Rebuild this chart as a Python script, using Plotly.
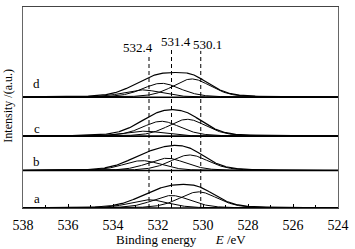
import numpy as np
import plotly.graph_objects as go

# ---- data ----
panels = ["a", "b", "c", "d"]
baselines = [0.0, 37.8, 72.5, 111.8]          # vertical offset of each spectrum
# fitted components per panel: centre (eV), height, FWHM (eV)
comp_centres = {
    "a": [532.4, 531.4, 530.2],
    "b": [532.7, 531.6, 530.6],
    "c": [532.6, 531.85, 530.7],
    "d": [532.7, 531.85, 530.5],
}
comp_heights = {
    "a": [8.3, 12.6, 16.3],
    "b": [10.0, 12.4, 15.7],
    "c": [5.0, 15.0, 17.0],
    "d": [7.4, 14.0, 18.4],
}
comp_fwhm = {
    "a": [2.0, 2.0, 2.0],
    "b": [2.0, 2.0, 2.0],
    "c": [2.0, 2.0, 2.0],
    "d": [2.0, 2.0, 2.0],
}
lorentz_frac = 0.3
ref_positions = [532.4, 531.4, 530.1]
ref_labels = ["532.4", "531.4", "530.1"]
x_ticks = [538, 536, 534, 532, 530, 528, 526, 524]

energy = np.linspace(538, 524, 701)


def pvoigt(x, c, h, w, m):
    d = (x - c) ** 2 / w ** 2
    return h * ((1 - m) * np.exp(-4 * np.log(2) * d) + m / (1 + 4 * d))


fig = go.Figure()
line = dict(color="black", width=1)
for p, base in zip(panels, baselines):
    total = np.zeros_like(energy)
    for c, h, w in zip(comp_centres[p], comp_heights[p], comp_fwhm[p]):
        comp = pvoigt(energy, c, h, w, lorentz_frac)
        total += comp
        fig.add_trace(go.Scatter(x=energy, y=base + comp, mode="lines",
                                 line=line, hoverinfo="skip"))
    fig.add_trace(go.Scatter(x=energy, y=base + total, mode="lines",
                             line=dict(color="black", width=1.2), hoverinfo="skip"))
    fig.add_trace(go.Scatter(x=[538, 524], y=[base, base], mode="lines",
                             line=dict(color="black", width=1.6), hoverinfo="skip"))

# dashed reference lines
tops = [155.5, 161.5, 158.5]
for xpos, top in zip(ref_positions, tops):
    fig.add_trace(go.Scatter(x=[xpos, xpos], y=[0, top], mode="lines",
                             line=dict(color="black", width=1, dash="4px,3px"),
                             hoverinfo="skip"))

annotations = []
label_x = [532.9, 531.2, 529.8]
label_y = [161.5, 168.0, 164.5]
for lx, ly, t in zip(label_x, label_y, ref_labels):
    annotations.append(dict(x=lx, y=ly, text=t, showarrow=False, xref="x", yref="y",
                            font=dict(family="Liberation Serif", size=13, color="black")))

panel_label_y = [9.5, 46.5, 80.5, 125.5]
for p, ly in zip(panels, panel_label_y):
    annotations.append(dict(x=537.4, y=ly, text=p, showarrow=False, xref="x", yref="y",
                            font=dict(family="Liberation Serif", size=13, color="black")))

annotations.append(dict(x=0.5, y=-0.158, xref="paper", yref="paper", showarrow=False,
                        xanchor="center", yanchor="middle",
                        text="Binding energy&#160;&#160;&#160;&#160;&#160;&#160;<i>E</i> /eV",
                        font=dict(family="Liberation Serif", size=13, color="black")))
annotations.append(dict(x=-0.047, y=0.51, xref="paper", yref="paper", showarrow=False,
                        xanchor="center", yanchor="middle",
                        text="Intensity /(a.u.)", textangle=-90,
                        font=dict(family="Liberation Serif", size=12, color="black")))

fig.update_layout(
    width=355, height=249,
    margin=dict(l=23, r=15, t=6, b=41),
    plot_bgcolor="white", paper_bgcolor="white",
    showlegend=False,
    annotations=annotations,
    xaxis=dict(range=[538, 524], tickvals=x_ticks, ticks="inside", ticklen=4,
               tickcolor="black", showline=True, linecolor="#444", linewidth=1,
               mirror=True, showgrid=False, zeroline=False, ticklabelstandoff=4,
               minor=dict(dtick=1, ticks="inside", ticklen=3, tickcolor="black"),
               tickfont=dict(family="Liberation Serif", size=14, color="black")),
    yaxis=dict(range=[0, 202.8], showticklabels=False, ticks="", showline=True,
               linecolor="#666", linewidth=1, mirror=True, showgrid=False,
               zeroline=False),
)

fig.write_html("out.html", config={"displayModeBar": False},
               post_script="document.body.style.margin='0';")
